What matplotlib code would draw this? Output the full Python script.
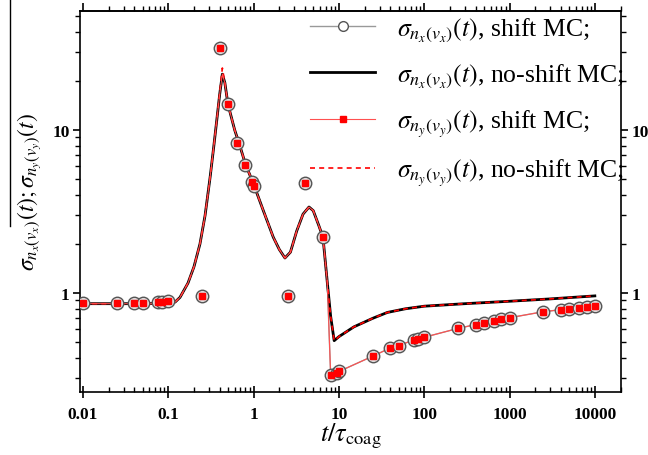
import matplotlib
matplotlib.use("Agg")
import matplotlib.pyplot as plt
from matplotlib.lines import Line2D
from matplotlib.ticker import LogLocator, FixedLocator, FixedFormatter, NullFormatter

plt.rcParams['font.family'] = ['Liberation Serif', 'DejaVu Serif']
plt.rcParams['mathtext.fontset'] = 'stix'

# no-shift MC curves
t_curve = [0.01, 0.05, 0.1, 0.12, 0.137, 0.17, 0.2, 0.235, 0.27, 0.31, 0.34, 0.37, 0.4, 0.43,
           0.46, 0.5, 0.6, 0.7, 0.8, 1.0, 1.3, 1.7, 2.0, 2.33, 2.7, 3.2, 3.8, 4.46, 5.0, 5.8,
           6.5, 7.3, 8.0, 8.8, 10, 15, 25, 37, 60, 100, 300, 1000, 3000, 10000]
sx_noshift = [0.86, 0.86, 0.865, 0.88, 0.94, 1.15, 1.45, 2.0, 3.0, 5.2, 7.8, 11.5, 16.5, 22.0,
              19.5, 14.4, 10.0, 7.8, 6.2, 4.65, 3.2, 2.2, 1.85, 1.64, 1.78, 2.4, 3.05, 3.37, 3.2, 2.6,
              2.2, 1.17, 0.72, 0.51, 0.54, 0.62, 0.70, 0.76, 0.80, 0.83, 0.86, 0.89, 0.92, 0.96]
sy_noshift = [0.86, 0.86, 0.865, 0.88, 0.94, 1.15, 1.45, 2.0, 3.0, 5.2, 7.8, 11.5, 17.0, 24.0,
              19.5, 14.4, 10.0, 7.8, 6.2, 4.65, 3.2, 2.2, 1.85, 1.64, 1.78, 2.4, 3.05, 3.37, 3.2, 2.6,
              2.2, 1.17, 0.72, 0.51, 0.54, 0.62, 0.70, 0.76, 0.80, 0.83, 0.86, 0.89, 0.92, 0.96]

# shift MC connecting line
t_shift_line = [0.01, 0.05, 0.1, 0.12, 0.137, 0.17, 0.2, 0.235, 0.27, 0.31, 0.34, 0.37, 0.4, 0.43,
                0.46, 0.5, 0.6, 0.7, 0.8, 1.0, 1.3, 1.7, 2.0, 2.33, 2.7, 3.2, 3.8, 4.46, 5.0, 5.8,
                6.5, 7.3, 8.0, 9.5, 10, 25, 40, 50, 75, 85, 100, 250, 400, 500, 650, 800, 1000,
                2500, 4000, 5000, 6500, 8000, 10000]
s_shift_line = [0.86, 0.86, 0.865, 0.88, 0.94, 1.15, 1.45, 2.0, 3.0, 5.2, 7.8, 11.5, 16.5, 22.0,
                19.5, 14.4, 10.0, 7.8, 6.2, 4.65, 3.2, 2.2, 1.85, 1.64, 1.78, 2.4, 3.05, 3.37, 3.2, 2.6,
                2.2, 1.17, 0.315, 0.325, 0.33, 0.41, 0.46, 0.475, 0.515, 0.52, 0.535, 0.607, 0.64,
                0.658, 0.676, 0.69, 0.705, 0.768, 0.79, 0.80, 0.81, 0.82, 0.836]

# shift MC markers
t_shift = [0.01, 0.025, 0.04, 0.05, 0.075, 0.085, 0.1, 0.25, 0.4, 0.5, 0.64, 0.8, 0.97, 1.0,
           2.5, 4.0, 6.5, 8.0, 9.5, 10, 25, 40, 50, 75, 85, 100, 250, 400, 500, 650, 800, 1000,
           2500, 4000, 5000, 6500, 8000, 10000]
sx_shift = [0.868, 0.868, 0.87, 0.87, 0.88, 0.885, 0.89, 0.963, 31.7, 14.4, 8.3, 6.1, 4.82, 4.55,
            0.955, 4.73, 2.2, 0.315, 0.325, 0.33, 0.41, 0.46, 0.475, 0.515, 0.52, 0.535, 0.607, 0.64,
            0.658, 0.676, 0.69, 0.705, 0.768, 0.79, 0.80, 0.81, 0.82, 0.836]
sy_shift = sx_shift

x_ticks = [0.01, 0.1, 1, 10, 100, 1000, 10000]
x_ticklabels = ["0.01", "0.1", "1", "10", "100", "1000", "10000"]
y_ticks = [1, 10]
y_ticklabels = ["1", "10"]

fig = plt.figure(figsize=(6.48, 4.56), dpi=100)
ax = fig.add_axes([80/648, 1-393/456, 541/648, 381/456])

ax.plot(t_shift_line, s_shift_line, color='#999999', lw=1.0, zorder=2)
ax.plot(t_curve, sx_noshift, color='black', lw=2.0, zorder=3)
ax.plot(t_curve, sy_noshift, color='red', lw=1.2, ls=(0, (3, 2.5)), zorder=4)
ax.plot(t_shift_line, s_shift_line, color='#ff5050', lw=0.8, zorder=4)
ax.plot(t_shift, sx_shift, ls='none', marker='o', ms=9, mfc='#dddddd', mec='#555555', mew=1.0, zorder=5)
ax.plot(t_shift, sy_shift, ls='none', marker='s', ms=4.5, mfc='red', mec='red', zorder=6)

ax.set_xscale('log')
ax.set_yscale('log')
ax.set_xlim(0.00922, 20270)
ax.set_ylim(0.247, 53.7)

ax.xaxis.set_major_locator(FixedLocator(x_ticks))
ax.xaxis.set_major_formatter(FixedFormatter(x_ticklabels))
ax.xaxis.set_minor_locator(LogLocator(base=10, subs=range(2, 10), numticks=20))
ax.xaxis.set_minor_formatter(NullFormatter())
ax.yaxis.set_major_locator(FixedLocator(y_ticks))
ax.yaxis.set_major_formatter(FixedFormatter(y_ticklabels))
ax.yaxis.set_minor_locator(LogLocator(base=10, subs=range(2, 10), numticks=20))
ax.yaxis.set_minor_formatter(NullFormatter())

for sp in ax.spines.values():
    sp.set_linewidth(1.2)

ax.tick_params(axis='x', which='major', direction='inout', length=8, width=1.2, labelsize=12.5, pad=6)
ax.tick_params(axis='x', which='minor', direction='in', length=3.5, width=1.0)
ax.tick_params(axis='y', which='major', direction='out', length=5, width=1.2, labelsize=12.5,
               left=True, right=True, labelleft=True, labelright=True, pad=2.5)
ax.tick_params(axis='y', which='minor', direction='out', length=3.5, width=1.0, left=True, right=True)
for lab in ax.get_xticklabels() + ax.get_yticklabels():
    lab.set_fontweight('bold')

sec = ax.secondary_xaxis('top')
sec.xaxis.set_major_locator(FixedLocator(x_ticks))
sec.xaxis.set_minor_locator(LogLocator(base=10, subs=range(2, 10), numticks=20))
sec.xaxis.set_major_formatter(NullFormatter())
sec.xaxis.set_minor_formatter(NullFormatter())
sec.tick_params(which='major', direction='out', length=6, width=1.2)
sec.tick_params(which='minor', direction='out', length=3.5, width=1.0)
sec.spines['top'].set_linewidth(1.2)

ax.set_xlabel(r"$t/\tau_{\rm coag}$", fontsize=19)
ax.xaxis.set_label_coords(0.5, -0.075)
ax.set_ylabel(r"$\sigma_{n_x(v_x)}(t);\sigma_{n_y(v_y)}(t)$", fontsize=17)
ax.yaxis.set_label_coords(-0.067, 0.527)

fig.add_artist(Line2D([10/648, 10/648], [1.0, 1-227/456], color='black', lw=1.0))

h1 = Line2D([], [], color='#999999', lw=1.0, marker='o', ms=7, mfc='white', mec='#555555')
h2 = Line2D([], [], color='black', lw=2.0)
h3 = Line2D([], [], color='#ff5050', lw=0.8, marker='s', ms=4, mfc='red', mec='red')
h4 = Line2D([], [], color='red', lw=1.2, ls=(0, (3, 2.5)))
labels = [r"$\sigma_{n_x(v_x)}(t)$, shift MC;",
          r"$\sigma_{n_x(v_x)}(t)$, no-shift MC;",
          r"$\sigma_{n_y(v_y)}(t)$, shift MC;",
          r"$\sigma_{n_y(v_y)}(t)$, no-shift MC;"]
leg = ax.legend([h1, h2, h3, h4], labels, loc='upper left', bbox_to_anchor=(0.407, 1.015),
                frameon=False, fontsize=18.5, handlelength=2.5, handletextpad=0.85,
                labelspacing=0.7, borderaxespad=0.0)

fig.savefig("out.png", dpi=100)
